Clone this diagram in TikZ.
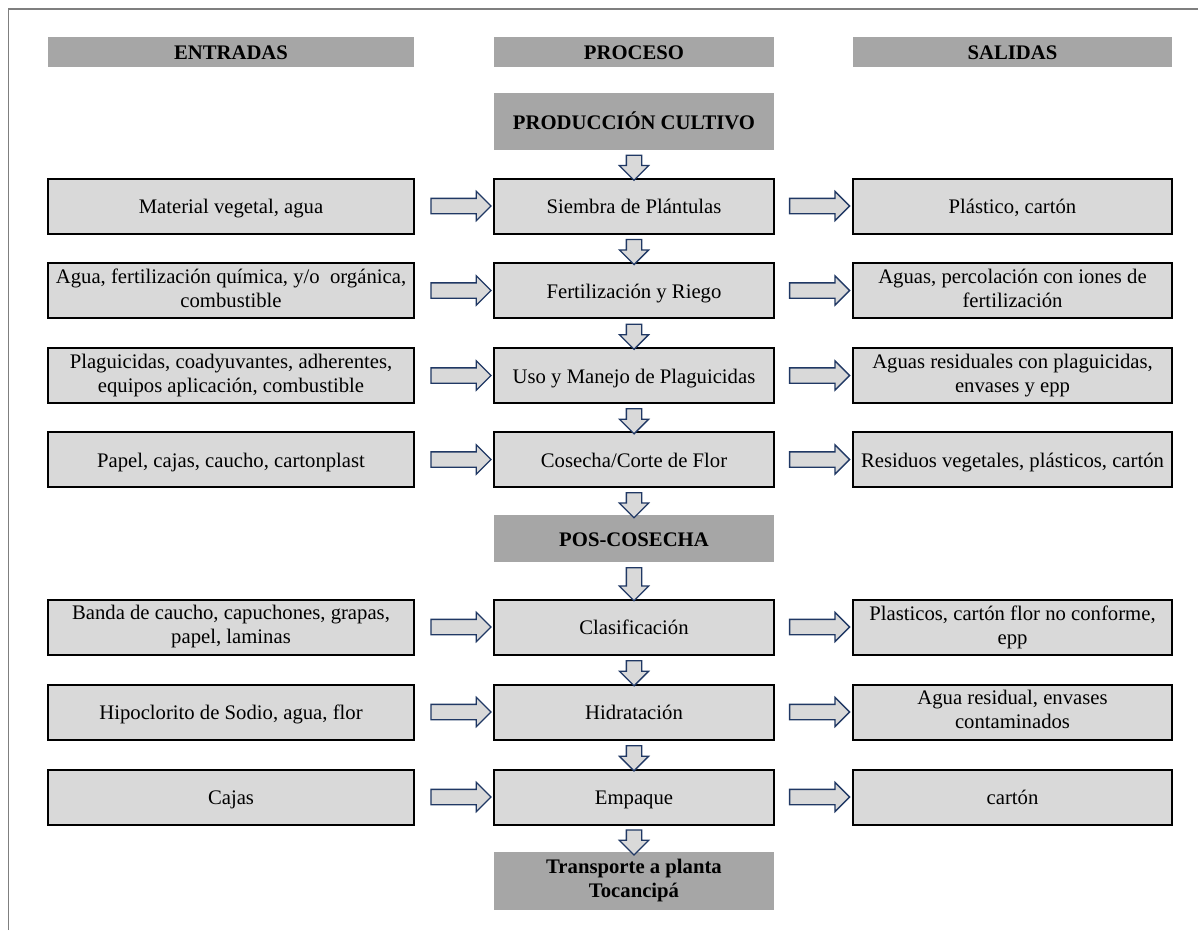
\documentclass[tikz,border=0pt]{standalone}
\usepackage{fontspec}
\setmainfont{Liberation Serif}
\usetikzlibrary{shapes.arrows}
\definecolor{boxfill}{HTML}{D9D9D9}
\definecolor{hdrfill}{HTML}{A6A6A6}
\definecolor{arrline}{HTML}{203864}
\definecolor{framecol}{HTML}{7F7F7F}
\newcommand\mystrut{\rule[-4.5pt]{0pt}{24pt}}
\begin{document}
\begin{tikzpicture}[x=1pt,y=-1pt,
  every node/.style={font=\fontsize{20.7}{24}\selectfont, align=center, inner sep=0pt},
  txt/.style={execute at begin node=\mystrut, execute at end node=\mystrut},
  hdr/.style={txt, fill=hdrfill, font=\fontsize{20.7}{24}\selectfont\bfseries, minimum height=30pt},
  sect/.style={txt, fill=hdrfill, font=\fontsize{20.7}{24}\selectfont\bfseries, minimum width=280pt},
  gbox/.style={txt, draw=black, line width=2pt, fill=boxfill, minimum height=55pt},
  ibox/.style={gbox, minimum width=366pt},
  pbox/.style={gbox, minimum width=280pt},
  obox/.style={gbox, minimum width=319pt},
  blockarr/.style={single arrow, draw=arrline, fill=boxfill, line width=1.3pt,
    minimum width=28pt, single arrow head extend=7pt, inner xsep=0pt, inner ysep=7pt,
    single arrow tip angle=90, single arrow head indent=0pt},
  harr/.style={blockarr, minimum height=60pt},
  varr/.style={blockarr, rotate=-90, minimum height=25pt}
]
\useasboundingbox (0,0) rectangle (1198,930);
% frame (top and left edges visible)
\draw[framecol, line width=1.5pt] (8.5,930) -- (8.5,9) -- (1198,9);

% headers
\node[hdr, minimum width=366pt] (hin) at (231,52) {ENTRADAS};
\node[hdr, minimum width=280pt] (hpr) at (634,52) {PROCESO};
\node[hdr, minimum width=319pt] (hout) at (1012.5,52) {SALIDAS};

% section nodes
\node[sect, minimum height=57pt] (s1) at (634,121.5) {PRODUCCIÓN CULTIVO};
\node[sect, minimum height=47pt] (s2) at (634,538.5) {POS-COSECHA};
\node[sect, minimum height=58pt] (s3) at (634,881) {Transporte a planta\\Tocancipá};

% process
\node[pbox] (p1) at (634,206) {Siembra de Plántulas};
\node[pbox] (p2) at (634,290.5) {Fertilización y Riego};
\node[pbox] (p3) at (634,375.5) {Uso y Manejo de Plaguicidas};
\node[pbox] (p4) at (634,459.5) {Cosecha/Corte de Flor};
\node[pbox] (p5) at (634,627) {Clasificación};
\node[pbox] (p6) at (634,712) {Hidratación};
\node[pbox] (p7) at (634,797) {Empaque};

% inputs
\node[ibox] (i1) at (231,206) {Material vegetal, agua};
\node[ibox] (i2) at (231,290.5) {Agua, fertilización química, y/o\ \ orgánica,\\combustible};
\node[ibox] (i3) at (231,375.5) {Plaguicidas, coadyuvantes, adherentes,\\equipos aplicación, combustible};
\node[ibox] (i4) at (231,459.5) {Papel, cajas, caucho, cartonplast};
\node[ibox] (i5) at (231,627) {Banda de caucho, capuchones, grapas,\\papel, laminas};
\node[ibox] (i6) at (231,712) {Hipoclorito de Sodio, agua, flor};
\node[ibox] (i7) at (231,797) {Cajas};

% outputs
\node[obox] (o1) at (1012.5,206) {Plástico, cartón};
\node[obox] (o2) at (1012.5,290.5) {Aguas, percolación con iones de\\fertilización};
\node[obox] (o3) at (1012.5,375.5) {Aguas residuales con plaguicidas,\\envases y epp};
\node[obox] (o4) at (1012.5,459.5) {Residuos vegetales, plásticos, cartón};
\node[obox] (o5) at (1012.5,627) {Plasticos, cartón flor no conforme,\\epp};
\node[obox] (o6) at (1012.5,712) {Agua residual, envases\\contaminados};
\node[obox] (o7) at (1012.5,797) {cartón};

% horizontal arrows
\foreach \k in {1,...,7}{
  \path (i\k.east) -- (p\k.west) node[harr, pos=0.54] {};
  \path (p\k.east) -- (o\k.west) node[harr, pos=0.53] {};
}

% vertical arrows
\path (s1.south) -- (p1.north) node[varr, midway] {};
\path (p1.south) -- (p2.north) node[varr, midway] {};
\path (p2.south) -- (p3.north) node[varr, midway] {};
\path (p3.south) -- (p4.north) node[varr, midway] {};
\path (p4.south) -- (s2.north) node[varr, midway] {};
\path (s2.south) -- (p5.north) node[varr, midway, minimum height=33pt] {};
\path (p5.south) -- (p6.north) node[varr, midway] {};
\path (p6.south) -- (p7.north) node[varr, midway] {};
\path (p7.south) -- (s3.north) node[varr, midway] {};
\end{tikzpicture}
\end{document}
